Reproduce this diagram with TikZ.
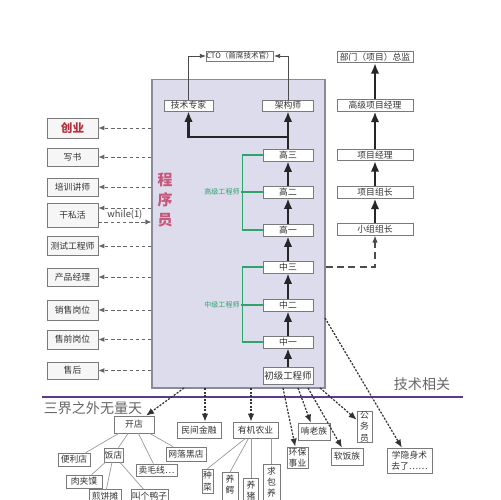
\documentclass[tikz,border=0pt]{standalone}
\usepackage{fontspec}
\setmainfont{Noto Sans CJK SC}
\usetikzlibrary{arrows.meta}
\definecolor{progfill}{HTML}{DCDCEC}
\definecolor{progline}{HTML}{8A8A9A}
\definecolor{boxline}{HTML}{7A7A7A}
\definecolor{boxfill}{HTML}{F6F6F6}
\definecolor{txtgray}{HTML}{333333}
\definecolor{lvlgreen}{HTML}{2EA36B}
\definecolor{purpleline}{HTML}{5E3A8C}
\definecolor{redtxt}{HTML}{B8303F}
\definecolor{pinktxt}{HTML}{C8557A}
\definecolor{headgray}{HTML}{666666}
\begin{document}
\begin{tikzpicture}[x=0.02cm,y=-0.02cm,
		jobbox/.style={draw=boxline,fill=boxfill,text=txtgray,inner sep=0pt,font=\fontsize{5}{6}\selectfont},
		sidebox/.style={jobbox,minimum width=10.2mm},
		lvlbox/.style={jobbox,fill=white,minimum width=10mm,minimum height=2.4mm},
		pmbox/.style={jobbox,fill=white,minimum width=15.2mm,minimum height=2.3mm},
		subbox/.style={jobbox,fill=white,align=center,font=\fontsize{5}{6.6}\selectfont},
		tallbox/.style={subbox,anchor=north,inner ysep=1.5pt,font=\fontsize{5}{6.2}\selectfont},
		thickarrow/.style={line width=1.3pt,black!85,-{Latex[length=2.1mm,width=1.7mm]}},
		ctoarrow/.style={line width=0.4pt,black!70,-{Latex[length=1.2mm,width=0.9mm]}},
		sidearrow/.style={line width=0.5pt,black!60,dash pattern=on 2pt off 1.5pt,-{Latex[length=1.2mm,width=1mm]}},
		linkdash/.style={line width=0.6pt,black!70,dash pattern=on 4pt off 2.5pt,-{Latex[length=1.4mm,width=1.1mm]}},
		exitarrow/.style={line width=0.7pt,black!80,dash pattern=on 1.2pt off 0.8pt,-{Latex[length=1.6mm,width=1.3mm]}},
		greenline/.style={line width=0.7pt,lvlgreen},
		subline/.style={line width=0.4pt,black!40}]
	\useasboundingbox (0,0) rectangle (500,500);
	\node[jobbox,fill=progfill,draw=progline,line width=0.6pt,minimum width=34.6mm,minimum height=61.8mm] (prog) at (238.5,233.5) {};
	\node[text=pinktxt,font=\fontsize{8.5}{11.4}\selectfont\bfseries,align=center] (chengxu) at (165,200) {程\\序\\员};
	\node[jobbox,fill=white,minimum width=13.2mm,minimum height=2mm,font=\fontsize{4.3}{5}\selectfont] (cto) at (240,56) {CTO（首席技术官）};
	\node[jobbox,fill=white,minimum width=9.8mm,minimum height=2.2mm] (zhuanjia) at (188.5,105.5) {技术专家};
	\node[jobbox,fill=white,minimum width=10.2mm,minimum height=2.2mm] (jiagou) at (288,105.5) {架构师};
	\draw[ctoarrow] (zhuanjia.north) |- (cto.west);
	\draw[ctoarrow] (jiagou.north) |- (cto.east);
	\foreach \name/\y/\txt in {gao3/155/高三,gao2/192/高二,gao1/230/高一,zhong3/267/中三,zhong2/305/中二,zhong1/342/中一}
		\node[lvlbox] (\name) at (288,\y) {\txt};
	\node[lvlbox,minimum height=3.4mm,font=\fontsize{5.4}{6}\selectfont] (chuji) at (288,376) {初级工程师};
	\foreach \a/\b in {chuji/zhong1,zhong1/zhong2,zhong2/zhong3,zhong3/gao1,gao1/gao2,gao2/gao3,gao3/jiagou}
		\draw[thickarrow] (\a) -- (\b);
	\coordinate (fork) at (288,137);
	\draw[thickarrow] (fork) -| (zhuanjia.south);
	\draw[greenline] (gao3.west) -- ++(-20,0) |- (gao1.west);
	\node[font=\fontsize{4}{5}\selectfont,text=lvlgreen,inner sep=0.5pt] (gaoji) at (222,192) {高级工程师};
	\draw[greenline] (gaoji) -- (gao2);
	\draw[greenline] (zhong3.west) -- ++(-20,0) |- (zhong1.west);
	\node[font=\fontsize{4}{5}\selectfont,text=lvlgreen,inner sep=0.5pt] (zhongji) at (222,305) {中级工程师};
	\draw[greenline] (zhongji) -- (zhong2);
	\foreach \name/\y/\txt in {zongjian/57/部门（项目）总监,gaojixm/105.5/高级项目经理,xiangmu/155/项目经理,xmzuzhang/192.5/项目组长,xzzuzhang/229.5/小组组长}
		\node[pmbox] (\name) at (375,\y) {\txt};
	\foreach \a/\b in {xzzuzhang/xmzuzhang,xmzuzhang/xiangmu,xiangmu/gaojixm,gaojixm/zongjian}
		\draw[thickarrow] (\a) -- (\b);
	\draw[linkdash] (prog.east |- zhong3) -| (xzzuzhang.south);
	\node[sidebox,minimum height=4mm,text=redtxt,font=\fontsize{6.6}{7}\selectfont\bfseries] (chuangye) at (72.5,128) {创业};
	\foreach \name/\y/\h/\txt in {xieshu/157/3.6/写书,peixun/187/3.6/培训讲师,sihuo/215/4.8/干私活,ceshi/246/3.8/测试工程师,chanpin/277/3.6/产品经理,xiaoshou/310/4/销售岗位,shouqian/339.5/3.8/售前岗位,shouhou/370.5/3.4/售后}
		\node[sidebox,minimum height=\h mm] (\name) at (72.5,\y) {\txt};
	\foreach \name in {chuangye,xieshu,peixun,ceshi,chanpin,xiaoshou,shouqian,shouhou}
		\draw[sidearrow] (prog.west |- \name) -- (\name);
	\coordinate (sihuoout) at ([yshift=1.4mm]sihuo.east);
	\coordinate (sihuoin) at ([yshift=-1.4mm]sihuo.east);
	\draw[sidearrow] (prog.west |- sihuoout) -- (sihuoout);
	\draw[sidearrow] (sihuoin) -- node[yshift=1.4mm,font=\fontsize{5.3}{6}\selectfont,text=black!75,inner sep=0pt] (whileone) {while(1)} (prog.west |- sihuoin);
	\coordinate (lineL) at (42,397);
	\coordinate (lineR) at (463,397);
	\draw[purpleline,line width=1.4pt] (lineL) -- (lineR);
	\node[text=headgray,font=\fontsize{8}{9}\selectfont] (jishu) at (422,384) {技术相关};
	\node[text=headgray,font=\fontsize{8}{9}\selectfont] (sanjie) at (93,408) {三界之外无量天};
	\node[subbox,minimum width=8mm,minimum height=3.4mm] (kaidian) at (134,424.5) {开店};
	\node[subbox,minimum width=8.8mm,minimum height=3.2mm] (minjian) at (199,430) {民间金融};
	\node[subbox,minimum width=9mm,minimum height=3.2mm] (nongye) at (255.5,430) {有机农业};
	\node[subbox,minimum width=4.2mm,minimum height=4.2mm] (huanbao) at (297.5,457.5) {环保\\事业};
	\node[subbox,minimum width=6.4mm,minimum height=3.4mm] (kenlao) at (314,431.5) {啃老族};
	\node[subbox,minimum width=6.4mm,minimum height=3.4mm] (ruanfan) at (347,456.5) {软饭族};
	\node[subbox,minimum width=3mm,minimum height=6.2mm] (gongwu) at (364.5,426.5) {公\\务\\员};
	\node[subbox,minimum width=9mm,minimum height=5mm] (yinshen) at (409.5,460.5) {学隐身术\\去了……};
	\coordinate (out1) at (184,388);
	\coordinate (out2) at (205,388);
	\coordinate (out3) at (251,388);
	\coordinate (out4) at (283,388);
	\coordinate (out5) at (298,388);
	\coordinate (out6) at (308,388);
	\coordinate (out7) at (320,388);
	\coordinate (out8) at (325,318);
	\draw[exitarrow] (out1) -- (kaidian);
	\draw[exitarrow] (out2) -- (out2 |- minjian.north);
	\draw[exitarrow] (out3) -- (out3 |- nongye.north);
	\draw[exitarrow] (out4) -- (huanbao);
	\draw[exitarrow] (out5) -- (kenlao);
	\draw[exitarrow] (out6) -- (ruanfan);
	\draw[exitarrow] (out7) -- (gongwu);
	\draw[exitarrow] (out8) -- (yinshen);
	\node[subbox,minimum width=6.4mm,minimum height=2.6mm] (bianli) at (74,459.5) {便利店};
	\node[subbox,minimum width=3.8mm,minimum height=2.8mm] (fandian) at (113.5,455) {饭店};
	\node[subbox,minimum width=8mm,minimum height=2.8mm] (heidian) at (186,454) {网落黑店};
	\node[subbox,minimum width=8.2mm,minimum height=2.4mm] (maoxian) at (156.5,470) {卖毛线…};
	\node[subbox,minimum width=7.2mm,minimum height=2.6mm] (roujia) at (84,481.5) {肉夹馍};
	\node[subbox,minimum width=6.4mm,minimum height=2.6mm] (jianbing) at (105,496) {煎饼摊};
	\node[subbox,minimum width=7.4mm,minimum height=2.6mm] (yazi) at (149.5,496) {叫个鸭子};
	\foreach \b in {bianli,fandian,maoxian,heidian}
		\draw[subline] (kaidian) -- (\b);
	\foreach \b in {roujia,jianbing,yazi}
		\draw[subline] (fandian) -- (\b);
	\node[subbox,minimum width=2.2mm,minimum height=4.8mm] (zhongcai) at (207.5,481) {种\\菜};
	\node[tallbox,minimum width=3.2mm,text depth=3mm] (yangeyu) at (230,472) {养\\鳄};
	\node[tallbox,minimum width=3mm,text depth=2mm] (yangzhu) at (251,478) {养\\猪};
	\node[tallbox,minimum width=3.4mm,text depth=1.5mm,font=\fontsize{5}{6.4}\selectfont] (baoyang) at (271.5,464) {求\\包\\养};
	\draw[subline] ([xshift=-2mm]nongye.south) -- (zhongcai.north);
	\draw[subline] ([xshift=-1.4mm]nongye.south) -- (yangeyu.north);
	\draw[subline] (yangzhu.north |- nongye.south) -- (yangzhu.north);
	\draw[subline] (baoyang.north |- nongye.south) -- (baoyang.north);
\end{tikzpicture}
\end{document}
